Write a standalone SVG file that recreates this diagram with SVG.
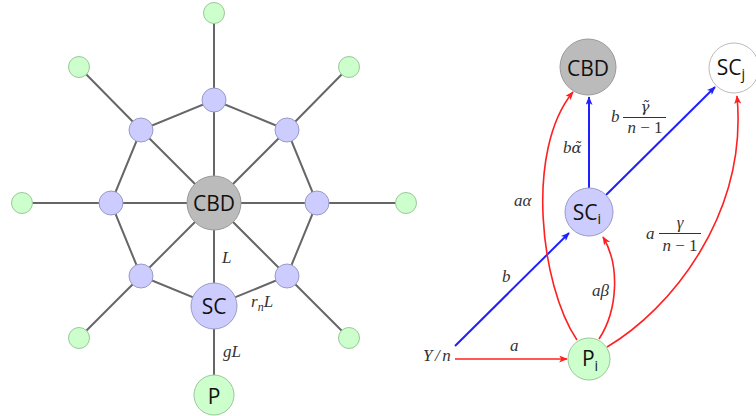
<svg xmlns="http://www.w3.org/2000/svg" width="756" height="416" viewBox="0 0 756 416">
  <style>
    .edge { stroke: #666; stroke-width: 2; fill: none; }
    .cbd { fill: #bbbbbb; stroke: #999; stroke-width: 1; }
    .sc { fill: #ccccff; stroke: #9a9ac8; stroke-width: 1; }
    .p { fill: #ccffcc; stroke: #9ac89a; stroke-width: 1; }
    .scj { fill: #ffffff; stroke: #bbbbbb; stroke-width: 1; }
    .lbl { font-family: "Open Sans", "Noto Sans", sans-serif; font-size: 21px; fill: #111; text-anchor: middle; }
    .sub { font-size: 14px; }
    .math { font-family: "Liberation Serif", "DejaVu Serif", serif; font-style: italic; font-size: 17px; fill: #333; }
    .accent { font-family: "DejaVu Serif", serif; font-style: italic; font-size: 15px; fill: #333; }
    .up { font-style: normal; }
    .red { stroke: #ff2020; stroke-width: 1.6; fill: none; }
    .blue { stroke: #2020ff; stroke-width: 2; fill: none; }
    .bar { stroke: #333; stroke-width: 1.2; }
  </style>
  <defs>
    <marker id="ar-red" viewBox="0 0 10 8" refX="9" refY="4" markerWidth="9" markerHeight="7" markerUnits="userSpaceOnUse" orient="auto">
      <path d="M0,0 L10,4 L0,8 L2.5,4 z" fill="#ff2020"/>
    </marker>
    <marker id="ar-blue" viewBox="0 0 10 8" refX="9" refY="4" markerWidth="9" markerHeight="7" markerUnits="userSpaceOnUse" orient="auto">
      <path d="M0,0 L10,4 L0,8 L2.5,4 z" fill="#2020ff"/>
    </marker>
  </defs>

  <!-- ===== Left: city network ===== -->
  <g id="network-edges">
    <!-- spokes from the centre -->
    <path class="edge" d="M214,203 L214,100 M214,203 L287,130 M214,203 L317,203 M214,203 L287,276 M214,203 L214,306 M214,203 L141,276 M214,203 L111,203 M214,203 L141,130"/>
    <!-- ring -->
    <path class="edge" d="M214,100 L287,130 L317,203 L287,276 L214,306 L141,276 L111,203 L141,130 Z"/>
    <!-- outer links -->
    <path class="edge" d="M214,100 L214,13 M287,130 L349,67 M317,203 L406,203 M287,276 L349,338 M214,306 L214,395 M141,276 L79,338 M111,203 L22,203 M141,130 L79,67"/>
  </g>

  <g id="n-cbd"><circle class="cbd" cx="214" cy="203" r="27"/><text class="lbl" x="214" y="210.5">CBD</text></g>
  <g id="n-sc-top"><circle class="sc" cx="214" cy="100" r="12"/></g>
  <g id="n-sc-ur"><circle class="sc" cx="287" cy="130" r="12"/></g>
  <g id="n-sc-r"><circle class="sc" cx="317" cy="203" r="12"/></g>
  <g id="n-sc-lr"><circle class="sc" cx="287" cy="276" r="12"/></g>
  <g id="n-sc-ll"><circle class="sc" cx="141" cy="276" r="12"/></g>
  <g id="n-sc-l"><circle class="sc" cx="111" cy="203" r="12"/></g>
  <g id="n-sc-ul"><circle class="sc" cx="141" cy="130" r="12"/></g>
  <g id="n-sc"><circle class="sc" cx="214" cy="306" r="23"/><text class="lbl" x="214" y="314">SC</text></g>
  <g id="n-p-top"><circle class="p" cx="214" cy="13" r="10.5"/></g>
  <g id="n-p-ur"><circle class="p" cx="349" cy="67" r="10.5"/></g>
  <g id="n-p-r"><circle class="p" cx="406" cy="203" r="10.5"/></g>
  <g id="n-p-lr"><circle class="p" cx="349" cy="338" r="10.5"/></g>
  <g id="n-p-ll"><circle class="p" cx="79" cy="338" r="10.5"/></g>
  <g id="n-p-l"><circle class="p" cx="22" cy="203" r="10.5"/></g>
  <g id="n-p-ul"><circle class="p" cx="79" cy="67" r="10.5"/></g>
  <g id="n-p"><circle class="p" cx="214" cy="395" r="20"/><text class="lbl" x="214" y="404">P</text></g>

  <g id="network-labels">
    <text class="math" x="222" y="263">L</text>
    <text class="math" x="251" y="307">r<tspan font-size="12" dy="4">n</tspan><tspan dy="-4">L</tspan></text>
    <text class="math" x="223" y="357">gL</text>
  </g>

  <!-- ===== Right: flow diagram ===== -->
  <g id="flows">
    <path class="blue" d="M455,346 L569,233" marker-end="url(#ar-blue)"/>
    <path class="red" d="M455,359 L567,359" marker-end="url(#ar-red)"/>
    <path class="blue" d="M589,188 L589,97" marker-end="url(#ar-blue)"/>
    <path class="blue" d="M606,195 L715,87" marker-end="url(#ar-blue)"/>
    <path class="red" d="M577,340 C540,285 525,150 573,92" marker-end="url(#ar-red)"/>
    <path class="red" d="M599,339 C618,310 620,265 603,237" marker-end="url(#ar-red)"/>
    <path class="red" d="M607,347 C670,310 748,215 737,96" marker-end="url(#ar-red)"/>
  </g>

  <g id="f-cbd"><circle class="cbd" cx="588" cy="67" r="28"/><text class="lbl" x="588" y="76">CBD</text></g>
  <g id="f-scj"><circle class="scj" cx="734" cy="68" r="25"/><text class="lbl" x="731" y="75" font-size="19">SC<tspan class="sub" dy="4">j</tspan></text></g>
  <g id="f-sci"><circle class="sc" cx="589" cy="212" r="24"/><text class="lbl" x="587" y="220">SC<tspan class="sub" dy="4">i</tspan></text></g>
  <g id="f-pi"><circle class="p" cx="589" cy="359" r="21"/><text class="lbl" x="590" y="366">P<tspan class="sub" dy="5">i</tspan></text></g>

  <g id="flow-labels">
    <text class="math" x="423" y="361" letter-spacing="2.5">Y/n</text>
    <text class="math" x="510" y="351">a</text>
    <text class="math" x="502" y="282">b</text>
    <text class="math" x="592" y="296">aβ</text>
    <text class="math" x="514" y="206">aα</text>
    <text class="math" x="563" y="153">b<tspan class="accent">α̃</tspan></text>
    <text class="math" x="611" y="122">b</text>
    <text class="accent" x="645" y="112" text-anchor="middle">γ̃</text>
    <line class="bar" x1="623" y1="117.5" x2="666" y2="117.5"/>
    <text class="math" x="645" y="133" text-anchor="middle">n <tspan class="up">− 1</tspan></text>
    <text class="math" x="646" y="239">a</text>
    <text class="math" x="680" y="228" text-anchor="middle">γ</text>
    <line class="bar" x1="659" y1="233.5" x2="701" y2="233.5"/>
    <text class="math" x="680" y="251" text-anchor="middle">n <tspan class="up">− 1</tspan></text>
  </g>
</svg>
